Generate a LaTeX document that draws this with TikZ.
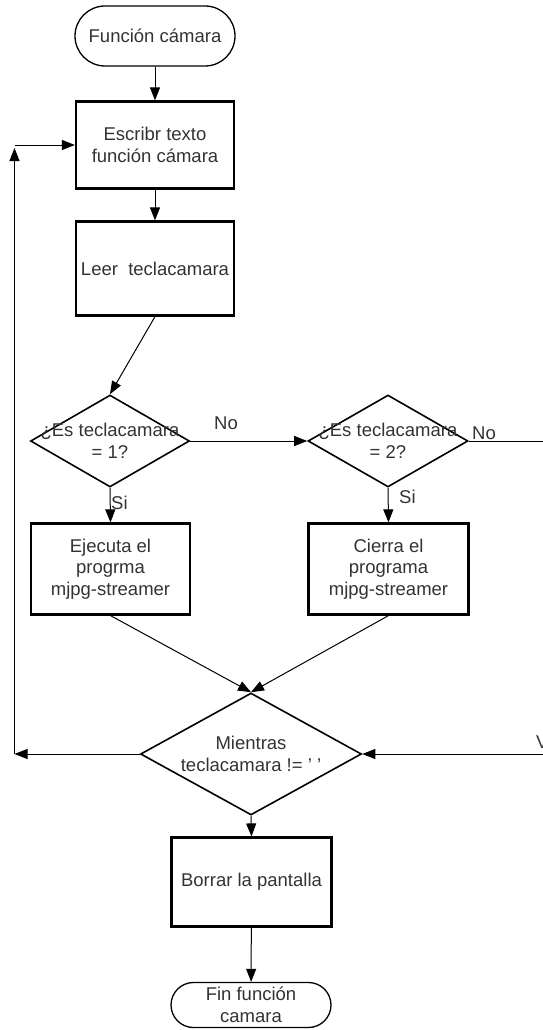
\documentclass[tikz,border=0pt]{standalone}
\usepackage{fontspec}
\setmainfont{Liberation Sans}
\usetikzlibrary{shapes.geometric,arrows.meta}
\begin{document}
\begin{tikzpicture}[x=1pt,y=-1pt,
  txt/.style={font=\fontsize{18.5}{21.5}\selectfont, text=black!80, align=center},
  procbox/.style={draw, line width=2.2pt, txt, inner sep=0pt},
  pill/.style={draw, line width=1.3pt, txt, inner sep=0pt},
  decision/.style={draw, diamond, line width=1.6pt, inner sep=0pt},
  conn/.style={line width=1pt, -{Triangle[length=13pt,width=10pt]}},
  plain/.style={line width=1pt},
  lbl/.style={txt, inner sep=0pt}]
\useasboundingbox (0,0) rectangle (543,1030);

% terminators and process boxes
\node[pill, minimum width=160pt, minimum height=60pt, rounded corners=30pt] (start) at (155,36) {Función cámara};
\node[procbox, minimum width=158pt, minimum height=87pt] (escribir) at (155,145) {Escribr texto\\función cámara};
\node[procbox, minimum width=158pt, minimum height=94pt] (leer) at (155,268.5) {Leer\ \ teclacamara};

% first pair of decisions
\node[decision, minimum width=159pt, minimum height=92pt,
      label={[txt]center:{¿Es teclacamara\\= 1?}}] (d1) at (110,441) {};
\node[decision, minimum width=160pt, minimum height=92pt,
      label={[txt]center:{¿Es teclacamara\\= 2?}}] (d2) at (388,441) {};

\node[procbox, minimum width=159pt, minimum height=91pt] (ejecuta) at (110.5,569) {Ejecuta el\\progrma\\mjpg-streamer};
\node[procbox, minimum width=160pt, minimum height=91pt] (cierra) at (388.5,569) {Cierra el\\programa\\mjpg-streamer};

% loop condition
\node[decision, minimum width=221pt, minimum height=122pt,
      label={[txt]center:{Mientras\\teclacamara != ' '}}] (d3) at (251,754) {};

\node[procbox, minimum width=160pt, minimum height=89pt] (borrar) at (251.5,882) {Borrar la pantalla};
\node[pill, minimum width=160pt, minimum height=45pt, rounded corners=22.5pt] (fin) at (251,1005) {Fin función\\camara};

% free ends of the loop lines
\coordinate (lbot) at (14.5,754);
\coordinate (ltop) at (14.5,148);
\coordinate (lturn) at (14.5,145);
\coordinate (rin) at (543,754);
\coordinate (rout) at (543,441);

% main flow
\draw[conn] (start) -- (escribir);
\draw[conn] (escribir) -- (leer);
\draw[conn] (leer.south) -- (d1.north);
\draw[conn] (d1.east) -- (d2.west);
\draw[plain] (d2.east) -- (rout);
\draw[conn] (d1.south) -- (ejecuta.north);
\draw[conn] (d2.south) -- (cierra.north);
\draw[conn] (ejecuta.south) -- (d3.north);
\draw[conn] (cierra.south) -- (d3.north);
\draw[conn] (rin) -- (d3.east);
\draw[conn] (d3.south) -- (borrar.north);
\draw[conn] (borrar) -- (fin);

% return loop on the left
\draw[conn] (d3.west) -- (lbot);
\draw[conn] (lbot) -- (ltop);
\draw[conn] (lturn) -- (escribir.west);

% branch labels
\node[lbl] (no1) at (226,423) {No};
\node[lbl] (no2) at (484,433) {No};
\node[lbl, anchor=west] (si1) at (111,503) {Si};
\node[lbl, anchor=west] (si2) at (399,497) {Si};
\node[lbl, anchor=west] (cut) at (536,742) {V};
\end{tikzpicture}
\end{document}
